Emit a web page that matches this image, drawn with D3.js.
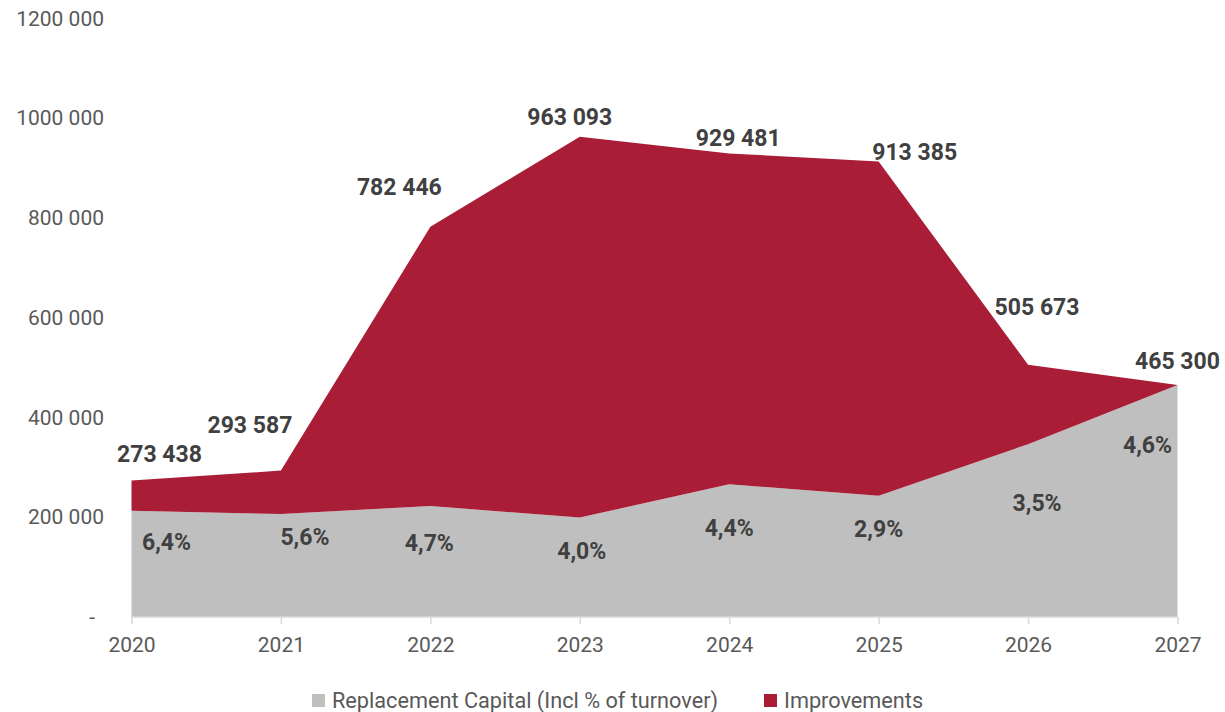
<!DOCTYPE html>
<html>
<head>
<meta charset="utf-8">
<script src="https://cdn.jsdelivr.net/npm/d3@7"></script>
<style>
  html, body { margin: 0; padding: 0; background: #fff; }
  svg { display: block; font-family: Roboto, "Open Sans", "Liberation Sans", sans-serif; }
</style>
</head>
<body>
<svg id="chart" width="1225" height="712"></svg>
<script>
// Capital expenditure per year, split into replacement capital and improvements
const years = [2020, 2021, 2022, 2023, 2024, 2025, 2026, 2027];
const replacement = [213000, 206500, 222500, 199500, 266000, 243000, 346500, 465300];
const improvements = [60438, 87087, 559946, 763593, 663481, 670385, 159173, 0];
const totals = [273438, 293587, 782446, 963093, 929481, 913385, 505673, 465300];
const turnoverShare = ["6,4%", "5,6%", "4,7%", "4,0%", "4,4%", "2,9%", "3,5%", "4,6%"];
const yTickValues = [0, 200000, 400000, 600000, 800000, 1000000, 1200000];
const yTickLabels = ["-", "200 000", "400 000", "600 000", "800 000", "1000 000", "1200 000"];
const seriesNames = ["Replacement Capital (Incl % of turnover)", "Improvements"];

// label placement relative to each point (pixels)
const totalNudge = [[28, -27], [-31, -46], [-31, -40], [-10, -20], [9, -16], [36, -10], [9, -58], [0, -24]];
const shareNudge = [[35, 31], [24, 23], [-1, 37], [2, 33], [0, 44], [0, 33], [9, 59], [-30, 60]];

const colors = ["#BFBFBF", "#A91D37"];
const svg = d3.select("#chart");

const x = d3.scalePoint().domain(years).range([131.5, 1177.5]);
const y = d3.scaleLinear().domain([0, 1200000]).range([617, 18.5]);

const rows = years.map((yr, i) => ({ year: yr, replacement: replacement[i], improvements: improvements[i] }));
const stack = d3.stack().keys(["replacement", "improvements"]);
const layers = stack(rows);

const area = d3.area()
  .x(d => x(d.data.year))
  .y0(d => y(d[0]))
  .y1(d => y(d[1]));

svg.append("g").selectAll("path")
  .data(layers)
  .join("path")
  .attr("d", area)
  .attr("fill", (d, i) => colors[i]);

// x axis line and ticks
const xAxis = d3.axisBottom(x).tickSize(7).tickPadding(13).tickFormat(d => String(d));
const gx = svg.append("g").attr("transform", "translate(0,617)").call(xAxis);
gx.select(".domain").attr("stroke", "#D9D9D9").attr("stroke-width", 1.5).attr("d", `M${x(2020)},0H${x(2027)}`);
gx.selectAll(".tick line").attr("stroke", "#D9D9D9").attr("stroke-width", 1.5);
gx.selectAll(".tick text")
  .attr("fill", "#595959")
  .attr("font-size", 21)
  .attr("font-family", "Roboto, sans-serif");

// y axis labels, no line
const yAxis = d3.axisLeft(y).tickValues(yTickValues).tickSize(0).tickPadding(0)
  .tickFormat((d, i) => yTickLabels[i]);
const gy = svg.append("g").attr("transform", "translate(104,0)").call(yAxis);
gy.select(".domain").remove();
gy.selectAll(".tick text")
  .attr("fill", "#595959")
  .attr("font-size", 21)
  .attr("font-family", "Roboto, sans-serif")
  .attr("dx", (d, i) => yTickLabels[i] === "-" ? -9 : 0);

// totals above the stack
svg.append("g").selectAll("text")
  .data(years)
  .join("text")
  .attr("x", (d, i) => x(d) + totalNudge[i][0])
  .attr("y", (d, i) => y(totals[i]) + totalNudge[i][1])
  .attr("dy", "0.355em")
  .attr("text-anchor", "middle")
  .attr("font-size", 23)
  .attr("font-weight", 700)
  .attr("fill", "#404040")
  .text((d, i) => d3.format(",")(totals[i]).replace(/,/g, " "));

// share of turnover inside the replacement area
svg.append("g").selectAll("text")
  .data(years)
  .join("text")
  .attr("x", (d, i) => x(d) + shareNudge[i][0])
  .attr("y", (d, i) => y(replacement[i]) + shareNudge[i][1])
  .attr("dy", "0.355em")
  .attr("text-anchor", "middle")
  .attr("font-size", 23)
  .attr("font-weight", 700)
  .attr("fill", "#404040")
  .text((d, i) => turnoverShare[i]);

// legend
const legendX = [312, 764];
const legend = svg.append("g").selectAll("g")
  .data(seriesNames)
  .join("g")
  .attr("transform", (d, i) => `translate(${legendX[i]},694)`);
legend.append("rect").attr("width", 13).attr("height", 13).attr("fill", (d, i) => colors[i]);
legend.append("text")
  .attr("x", 20)
  .attr("y", 6.5)
  .attr("dy", "0.355em")
  .attr("font-size", 21.7)
  .attr("fill", "#595959")
  .text(d => d);
</script>
</body>
</html>
